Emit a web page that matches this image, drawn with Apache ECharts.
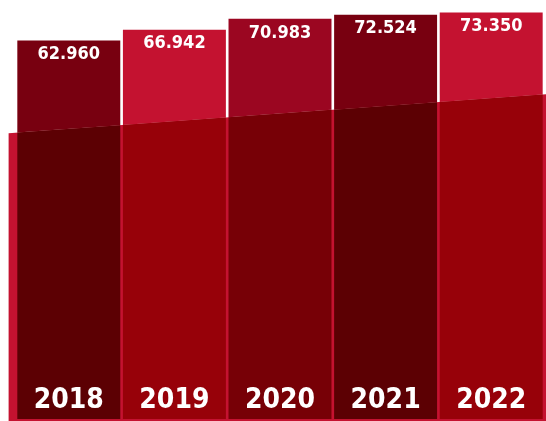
<!DOCTYPE html>
<html>
<head>
<meta charset="utf-8">
<script src="https://cdn.jsdelivr.net/npm/echarts@6/dist/echarts.min.js"></script>
<style>
  html, body { margin: 0; padding: 0; background: #ffffff; }
  #chart { width: 546px; height: 421px; }
</style>
</head>
<body>
<div id="chart"></div>
<script>
// Yearly totals
const years = ['2018', '2019', '2020', '2021', '2022'];
const values = [62.960, 66.942, 70.983, 72.524, 73.350];
const valueLabels = ['62.960', '66.942', '70.983', '72.524', '73.350'];

// Bar fills, one per year
const barColors = ['#780010', '#c41230', '#9b0621', '#780010', '#c41230'];

// Rising band behind the lower part of the bars (value at its left and right edge)
const bandStart = 28.4;
const bandEnd = 42.9;
const bandColor = '#c41230';

const AXIS_MIN = -78;
const AXIS_MAX = 78;
const FONT = "'DejaVu Sans Condensed', 'DejaVu Sans', sans-serif";

// Colour of a bar seen through the band (multiply blend)
function multiply(a, b) {
  const pa = [1, 3, 5].map(k => parseInt(a.substr(k, 2), 16));
  const pb = [1, 3, 5].map(k => parseInt(b.substr(k, 2), 16));
  return 'rgb(' + pa.map((v, k) => Math.round(v * pb[k] / 255)).join(',') + ')';
}

const chart = echarts.init(document.getElementById('chart'), null, { renderer: 'canvas' });

// Top edge of the band, in pixels, as a function of x
function bandGeometry(api) {
  const band = api.size([1, 0])[0];
  const first = api.coord([0, bandStart]);
  const xl = first[0] - band * 0.57;
  const yl = first[1];
  const yr = api.coord([0, bandEnd])[1];
  const W = api.getWidth();
  return {
    xl: xl, yl: yl, W: W, yr: yr,
    yAt: x => yl + (yr - yl) * (x - xl) / (W - xl)
  };
}

function renderBand(params, api) {
  const g = bandGeometry(api);
  const H = api.getHeight();
  return {
    type: 'polygon',
    shape: { points: [[g.xl, g.yl], [g.W, g.yr], [g.W, H], [g.xl, H]] },
    style: { fill: bandColor }
  };
}

function renderBar(params, api) {
  const i = api.value(0);
  const top = api.coord([i, api.value(1)]);
  const bottom = api.coord([i, AXIS_MIN]);
  const w = api.size([1, 0])[0] * 0.975;
  const x0 = top[0] - w / 2;
  const x1 = top[0] + w / 2;
  const g = bandGeometry(api);
  const y0 = g.yAt(x0);
  const y1 = g.yAt(x1);
  return {
    type: 'group',
    children: [
      {
        type: 'polygon',
        shape: { points: [[x0, top[1]], [x1, top[1]], [x1, y1], [x0, y0]] },
        style: { fill: barColors[i] }
      },
      {
        type: 'polygon',
        shape: { points: [[x0, y0], [x1, y1], [x1, bottom[1]], [x0, bottom[1]]] },
        style: { fill: multiply(barColors[i], bandColor) }
      }
    ]
  };
}

function renderLabels(params, api) {
  const i = api.value(0);
  const top = api.coord([i, api.value(1)]);
  const bottom = api.coord([i, AXIS_MIN]);
  return {
    type: 'group',
    children: [
      {
        type: 'text',
        style: {
          x: top[0], y: top[1] + 14,
          text: valueLabels[i],
          fill: '#ffffff',
          font: 'bold 18px ' + FONT,
          align: 'center', verticalAlign: 'middle'
        }
      },
      {
        type: 'text',
        style: {
          x: top[0], y: bottom[1] - 18,
          text: years[i],
          fill: '#ffffff',
          font: 'bold 28px ' + FONT,
          align: 'center', verticalAlign: 'middle'
        }
      }
    ]
  };
}

const seriesData = values.map((v, i) => [i, v]);

chart.setOption({
  animation: false,
  backgroundColor: '#ffffff',
  grid: { left: 16, right: 2, top: 0, bottom: 2 },
  xAxis: { type: 'category', data: years, show: false, boundaryGap: true },
  yAxis: { type: 'value', min: AXIS_MIN, max: AXIS_MAX, show: false },
  series: [
    { type: 'custom', z: 1, renderItem: renderBand, data: [[0, 0]], clip: false, silent: true },
    { type: 'custom', z: 2, renderItem: renderBar, data: seriesData, clip: false },
    { type: 'custom', z: 3, renderItem: renderLabels, data: seriesData, clip: false }
  ]
});
</script>
</body>
</html>
